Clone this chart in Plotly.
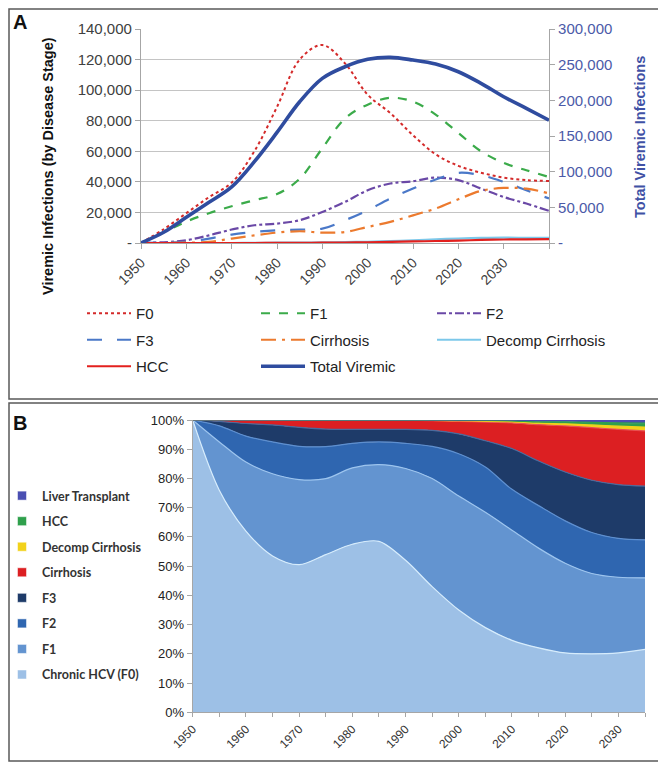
import plotly.graph_objects as go

# Page body has an 8px default margin, so the figure is sized to the
# viewport minus that offset and all placements are expressed in screen px.
OFF = 8
W, H = 666 - OFF, 763 - OFF

# ---------------- Panel A data (viremic infections by stage) ----------------
years_a = list(range(1950, 2041, 5))
f0 = [0, 9000, 19500, 30000, 39500, 60000, 89000, 120000, 129500, 117500,
      97000, 85000, 70500, 58000, 50500, 46000, 42800, 41100, 40600]
f1 = [0, 7000, 14000, 19500, 24000, 28000, 32000, 42000, 62000, 81500,
      90500, 95000, 92500, 84000, 72000, 60000, 52400, 47600, 43200]
f2 = [0, 500, 1800, 5000, 8800, 11600, 12700, 14900, 20300, 26900,
      34500, 38900, 40400, 42800, 41100, 35600, 30100, 25800, 21000]
f3 = [0, 300, 700, 2900, 5500, 7200, 8300, 8800, 9400, 14900,
      21400, 29100, 35600, 41500, 45900, 44300, 40000, 34500, 29100]
cirrhosis = [0, 0, 200, 800, 2900, 5000, 6800, 7700, 6800, 7200,
             10500, 13800, 18100, 22500, 28600, 34100, 36000, 35600, 32400]
decomp = [0, 0, 0, 0, 0, 100, 200, 300, 400, 600,
          800, 1200, 1800, 2400, 2900, 3300, 3500, 3400, 3300]
hcc = [0, 0, 0, 0, 0, 0, 100, 150, 200, 300,
       500, 700, 1000, 1300, 1600, 2000, 2300, 2400, 2500]
total_viremic = [0, 15000, 36000, 57000, 78600, 114000, 155000, 198000, 230800, 247100,
                 257500, 260200, 256500, 250900, 240100, 223800, 205000, 188700, 172200]

left_ticks = [0, 20000, 40000, 60000, 80000, 100000, 120000, 140000]
left_labels = ["-", "20,000", "40,000", "60,000", "80,000", "100,000", "120,000", "140,000"]
right_ticks = [0, 50000, 100000, 150000, 200000, 250000, 300000]
right_labels = ["-", "50,000", "100,000", "150,000", "200,000", "250,000", "300,000"]
x_ticks_a = list(range(1950, 2041, 10))
x_labels_a = [str(y) for y in range(1950, 2031, 10)] + [""]

# ---------------- Panel B data (share of viremic infections, %) ----------------
years_b = list(range(1950, 2036, 5))
share_f0 = [100, 76, 62, 53.5, 50.5, 54, 57.5, 58.5, 52, 43, 35, 29, 24.7, 22, 20.3, 20, 20.3, 21.5]
share_f1 = [0, 16.5, 23.6, 28.1, 29.1, 26, 26.1, 26.2, 31.4, 37, 39, 39.5, 37.8, 34, 30.7, 27.5, 25.9, 24.5]
share_f2 = [0, 5.5, 8.9, 10.9, 11.4, 11, 8.4, 7.8, 8.6, 11, 14.5, 15.5, 14, 14.5, 14.5, 14, 13.3, 13]
share_f3 = [0, 1.5, 4.3, 5.8, 6.5, 6, 4.8, 4.3, 4.8, 5.5, 6.8, 9, 14, 15.2, 16.7, 17.9, 18.4, 18.4]
share_cirr = [0, 0.5, 1.2, 1.7, 2.4, 3, 3.1, 3.1, 3.1, 3.3, 4.3, 6.4, 8.8, 12.4, 15.8, 18, 18.9, 18.9]
share_decomp = [0, 0, 0, 0, 0.05, 0.05, 0.05, 0.05, 0.05, 0.1, 0.2, 0.3, 0.4, 0.5, 0.7, 0.9, 1.1, 1.3]
share_hcc = [0, 0, 0, 0, 0.03, 0.03, 0.03, 0.03, 0.03, 0.1, 0.15, 0.25, 0.3, 0.5, 0.7, 0.9, 1.1, 1.3]
share_lt = [0, 0, 0, 0, 0.02, 0.02, 0.02, 0.02, 0.02, 0.05, 0.1, 0.15, 0.3, 0.6, 0.6, 0.8, 1.0, 1.1]

y_ticks_b = list(range(0, 101, 10))
y_labels_b = [f"{v}%" for v in y_ticks_b]
x_ticks_b = list(range(1950, 2036, 5))
x_labels_b = [str(y) if y % 10 == 0 else "" for y in x_ticks_b]

FONT = "Liberation Sans, Arial, sans-serif"


def fx(p):
    return (p - OFF) / W


def fy(p):
    return 1 - (p - OFF) / H


fig = go.Figure()

# ---------------- Panel A lines ----------------
line_series = [
    ("F0", f0, "#d42a2a", "dot", 2.0, "legend", "y"),
    ("F1", f1, "#3bab4a", "dash", 2.2, "legend2", "y"),
    ("F2", f2, "#6a48a6", "dashdot", 2.2, "legend3", "y"),
    ("F3", f3, "#4a78c8", "longdash", 2.2, "legend", "y"),
    ("Cirrhosis", cirrhosis, "#ec7a2e", "longdashdot", 2.2, "legend2", "y"),
    ("Decomp Cirrhosis", decomp, "#7cc8ea", "solid", 2.2, "legend3", "y"),
    ("HCC", hcc, "#e3201e", "solid", 2.2, "legend", "y"),
    ("Total Viremic", total_viremic, "#2f4c9f", "solid", 3.6, "legend2", "y2"),
]
for name, vals, col, dash, wdt, leg, yax in line_series:
    fig.add_trace(go.Scatter(
        x=years_a, y=vals, name=name, mode="lines",
        line=dict(color=col, dash=dash, width=wdt, shape="spline", smoothing=1.0),
        xaxis="x", yaxis=yax, legend=leg, legendgroup=name,
        hoverinfo="skip",
    ))

# ---------------- Panel B stacked areas ----------------
area_series = [
    ("Chronic HCV (F0)", share_f0, "#9dc0e6", "#d6ecfc"),
    ("F1", share_f1, "#6394d0", "#9cc4ee"),
    ("F2", share_f2, "#2f66b0", "#5d8fd0"),
    ("F3", share_f3, "#1e3b69", "#4a6a9c"),
    ("Cirrhosis", share_cirr, "#dc1f22", "#e85050"),
    ("Decomp Cirrhosis", share_decomp, "#f2d21b", "#f2d21b"),
    ("HCC", share_hcc, "#2fa04c", "#2fa04c"),
    ("Liver Transplant", share_lt, "#4a4fb2", "#4a4fb2"),
]
for name, vals, col, edge in area_series:
    fig.add_trace(go.Scatter(
        x=years_b, y=vals, name=name, mode="lines", stackgroup="b",
        groupnorm="percent" if name == "Chronic HCV (F0)" else None,
        fillcolor=col, line=dict(color=edge, width=1.2, shape="spline", smoothing=0.9),
        xaxis="x2", yaxis="y3", showlegend=False, hoverinfo="skip",
    ))

# legend entries for panel B (top to bottom)
for name, vals, col, edge in reversed(area_series):
    fig.add_trace(go.Scatter(
        x=[None], y=[None], name=name, mode="markers",
        marker=dict(symbol="square", size=9, color=col,
                    line=dict(color="#ffffff", width=0.5)),
        xaxis="x2", yaxis="y3", legend="legend4", legendgroup="b_" + name,
        hoverinfo="skip",
    ))

axis_gray = "#a6a6a6"

fig.update_layout(
    width=W, height=H, autosize=False,
    margin=dict(l=0, r=0, t=0, b=0, autoexpand=False),
    paper_bgcolor="white", plot_bgcolor="white",
    font=dict(family=FONT, size=14, color="#404040"),
    xaxis=dict(
        domain=[fx(141), fx(549)], range=[1950, 2040], anchor="y", automargin=False,
        tickmode="array", tickvals=x_ticks_a, ticktext=x_labels_a,
        tickangle=-45, ticks="outside", ticklen=5, tickcolor=axis_gray,
        showline=True, linecolor=axis_gray, linewidth=1.2, showgrid=False,
        zeroline=False, tickfont=dict(size=14, color="#404040"),
    ),
    yaxis=dict(
        domain=[fy(243), fy(29)], range=[0, 140000], anchor="x", automargin=False,
        tickmode="array", tickvals=left_ticks, ticktext=left_labels,
        ticks="outside", ticklen=5, tickcolor=axis_gray,
        showline=True, linecolor=axis_gray, linewidth=1.2,
        showgrid=True, gridcolor="#c4c4c4", gridwidth=1.2, zeroline=False,
        tickfont=dict(size=15, color="#404040"),
    ),
    yaxis2=dict(
        domain=[fy(243), fy(29)], range=[0, 300000], anchor="x", overlaying="y",
        automargin=False,
        side="right", tickmode="array", tickvals=right_ticks, ticktext=right_labels,
        ticks="outside", ticklen=5, tickcolor=axis_gray,
        showline=True, linecolor=axis_gray, linewidth=1.2, showgrid=False,
        zeroline=False, tickfont=dict(size=15, color="#4b5aa8"),
    ),
    xaxis2=dict(
        domain=[fx(192.7), fx(645)], range=[1950, 2035], anchor="y3", automargin=False,
        tickmode="array", tickvals=x_ticks_b, ticktext=x_labels_b,
        tickangle=-45, ticks="outside", ticklen=4, tickcolor=axis_gray,
        showline=True, linecolor=axis_gray, linewidth=1.2, showgrid=False,
        zeroline=False, tickfont=dict(size=12, color="#333333"),
    ),
    yaxis3=dict(
        domain=[fy(712.3), fy(420)], range=[0, 100], anchor="x2", automargin=False,
        tickmode="array", tickvals=y_ticks_b, ticktext=y_labels_b,
        ticks="outside", ticklen=5, tickcolor=axis_gray,
        showline=True, linecolor=axis_gray, linewidth=1.2, showgrid=False,
        zeroline=False, tickfont=dict(size=13, color="#222222"),
    ),
    legend=dict(x=fx(82), y=fy(297), xanchor="left", yanchor="top",
                orientation="v", itemwidth=44, tracegroupgap=4,
                traceorder="grouped", bgcolor="rgba(0,0,0,0)",
                font=dict(size=15, color="#222222", family=FONT)),
    legend2=dict(x=fx(256), y=fy(297), xanchor="left", yanchor="top",
                 orientation="v", itemwidth=44, tracegroupgap=4,
                 traceorder="grouped", bgcolor="rgba(0,0,0,0)",
                 font=dict(size=15, color="#222222", family=FONT)),
    legend3=dict(x=fx(432), y=fy(297), xanchor="left", yanchor="top",
                 orientation="v", itemwidth=44, tracegroupgap=4,
                 traceorder="grouped", bgcolor="rgba(0,0,0,0)",
                 font=dict(size=15, color="#222222", family=FONT)),
    legend4=dict(x=fx(2), y=fy(481), xanchor="left", yanchor="top",
                 orientation="v", itemwidth=30, tracegroupgap=6.3,
                 traceorder="grouped", bgcolor="rgba(0,0,0,0)",
                 font=dict(size=12.5, color="#333333", family="Lato, sans-serif",
                           weight="bold")),
    shapes=[
        dict(type="rect", xref="paper", yref="paper",
             x0=fx(9), x1=fx(664), y0=fy(399), y1=fy(9),
             line=dict(color="#5a5a5a", width=1.5)),
        dict(type="rect", xref="paper", yref="paper",
             x0=fx(9), x1=fx(664), y0=fy(761), y1=fy(403),
             line=dict(color="#5a5a5a", width=1.5)),
    ],
    annotations=[
        dict(text="<b>A</b>", x=fx(20), y=fy(22), xref="paper", yref="paper",
             xanchor="center", yanchor="middle",
             showarrow=False, font=dict(size=20, color="#111111", family=FONT)),
        dict(text="<b>B</b>", x=fx(20), y=fy(423), xref="paper", yref="paper",
             xanchor="center", yanchor="middle",
             showarrow=False, font=dict(size=20, color="#111111", family=FONT)),
        dict(text="<b>Viremic Infections (by Disease Stage)</b>", x=fx(48), y=fy(166),
             xref="paper", yref="paper", showarrow=False, textangle=-90,
             xanchor="center", yanchor="middle",
             font=dict(size=14.5, color="#111111", family=FONT)),
        dict(text="<b>Total Viremic Infections</b>", x=fx(640), y=fy(137),
             xref="paper", yref="paper", showarrow=False, textangle=-90,
             xanchor="center", yanchor="middle",
             font=dict(size=14.5, color="#3f51a5", family=FONT)),
    ],
)

fig.write_html("out.html")
